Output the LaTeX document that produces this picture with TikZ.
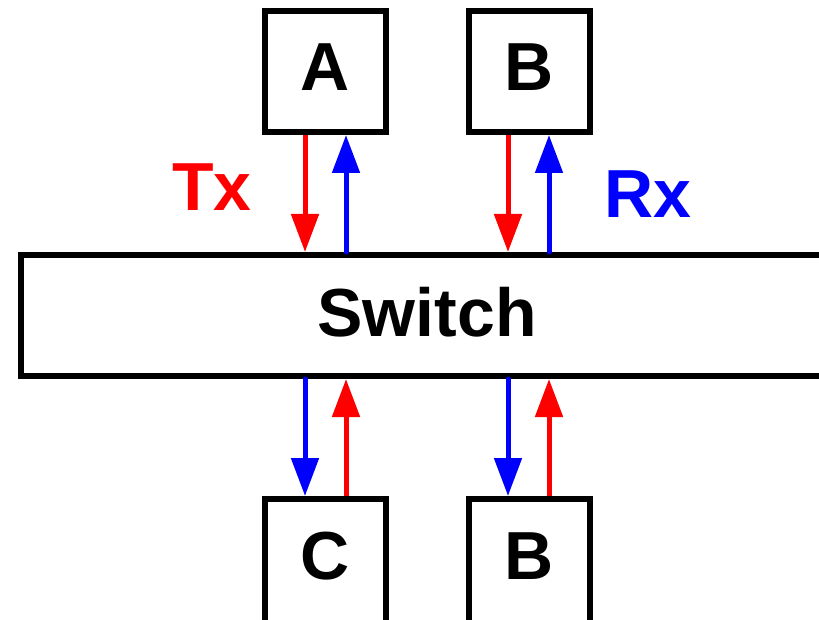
\documentclass[tikz,border=0pt]{standalone}
\usepackage{fontspec}
\setmainfont{Liberation Sans}
\usetikzlibrary{arrows.meta}
\begin{document}
\begin{tikzpicture}[x=1pt,y=-1pt,
  bigtext/.style={font=\fontsize{68}{80}\selectfont\bfseries},
  hostbox/.style={draw=black,line width=6pt,fill=white,minimum width=121pt,minimum height=121pt,inner sep=0pt,text depth=8pt,bigtext},
  lowbox/.style={hostbox,minimum height=140pt,text depth=26pt},
  switchbox/.style={draw=black,line width=6pt,fill=white,minimum width=812pt,minimum height=121pt,inner sep=0pt,text depth=8pt,bigtext},
  txline/.style={draw=red,line width=5pt,-{Triangle[length=38pt,width=27pt]}},
  rxline/.style={draw=blue,line width=5pt,line cap=round,-{Triangle[length=38pt,width=27pt]}},
  lbl/.style={bigtext,anchor=base,inner sep=0pt}]
\useasboundingbox (0,0) rectangle (819,620);
\fill[white] (0,0) rectangle (819,620);
\node[switchbox] (S) at (427,315.5) {Switch};
\node[hostbox] (A) at (325.5,71.5) {A};
\node[hostbox] (B) at (529,71.5) {B};
\node[lowbox] (C) at (325.5,569) {C};
\node[lowbox] (D) at (529,569) {B};
% top arrows
\draw[txline] ([xshift=-20.5pt]A.south) -- ([xshift=-20.5pt]A.south |- S.north);
\draw[rxline] ([xshift=20.5pt]A.south |- S.north) -- ([xshift=20.5pt]A.south);
\draw[txline] ([xshift=-21pt]B.south) -- ([xshift=-21pt]B.south |- S.north);
\draw[rxline] ([xshift=20pt]B.south |- S.north) -- ([xshift=20pt]B.south);
% bottom arrows
\draw[rxline] ([xshift=-20.5pt]C.north |- S.south) -- ([xshift=-20.5pt]C.north);
\draw[txline] ([xshift=20.5pt]C.north) -- ([xshift=20.5pt]C.north |- S.south);
\draw[rxline] ([xshift=-21pt]D.north |- S.south) -- ([xshift=-21pt]D.north);
\draw[txline] ([xshift=20pt]D.north) -- ([xshift=20pt]D.north |- S.south);
% labels
\node[lbl,text=red] (tx) at (212,211) {Tx};
\node[lbl,text=blue] (rx) at (647.5,218) {Rx};
\end{tikzpicture}
\end{document}
